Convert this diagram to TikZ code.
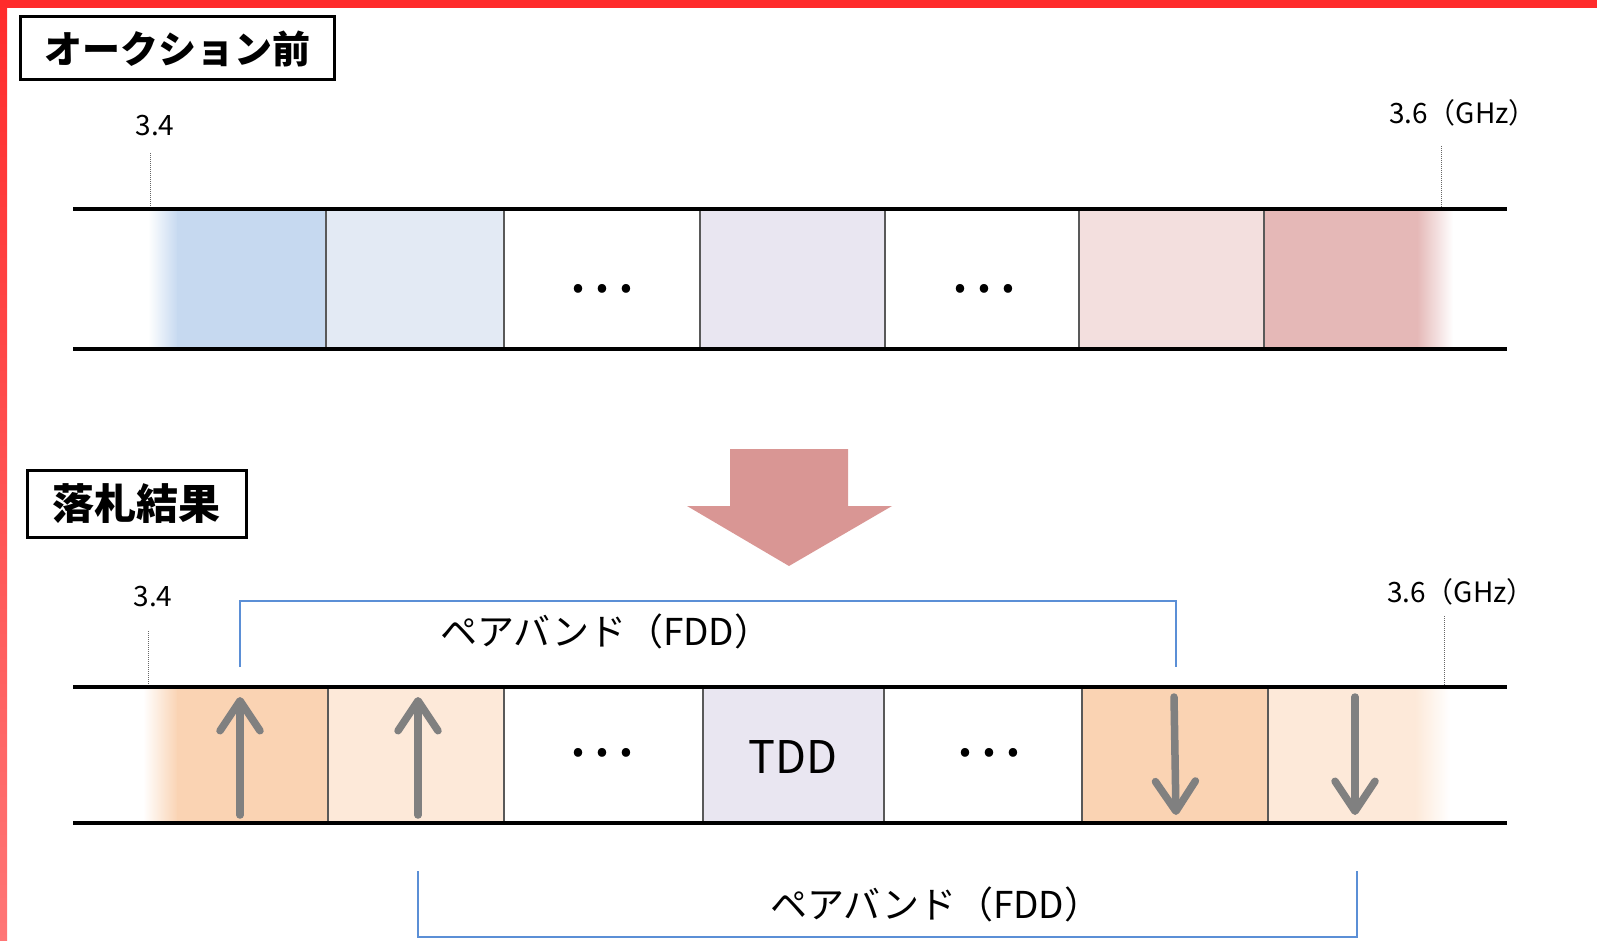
\documentclass[tikz,border=0pt]{standalone}
\usepackage{fontspec}
\newfontfamily\jp{Noto Sans CJK JP}
\usetikzlibrary{arrows.meta}

% frame and band colours
\definecolor{framered}{HTML}{FF2B2B}
\definecolor{framepink}{HTML}{FF7676}
\definecolor{blueA}{HTML}{C6D9F0}
\definecolor{blueB}{HTML}{E3EAF4}
\definecolor{lav}{HTML}{E9E6F1}
\definecolor{pinkB}{HTML}{F3DFDE}
\definecolor{pinkA}{HTML}{E5B8B7}
\definecolor{orangeA}{HTML}{FAD3B3}
\definecolor{orangeB}{HTML}{FDE9D9}
\definecolor{bigarrow}{HTML}{D99694}
\definecolor{fddblue}{HTML}{5B8FD6}
\definecolor{dirgrey}{HTML}{808080}

\tikzset{
	titlebox/.style={draw, line width=3pt, inner sep=0pt,
		font=\jp\bfseries\fontsize{38}{40}\selectfont},
	freq/.style={font=\jp\fontsize{28}{30}\selectfont, inner sep=0pt},
	pairlabel/.style={font=\jp\fontsize{37}{40}\selectfont, inner sep=0pt},
	dots/.style={font=\jp\fontsize{64}{64}\selectfont, inner sep=0pt},
	bandline/.style={line width=4.5pt},
	divider/.style={draw=black!65, line width=2pt},
	freqtick/.style={densely dotted, draw=black!60, line width=1pt},
	pairbracket/.style={draw=fddblue, line width=2.5pt},
	dirarrow/.style={draw=dirgrey, line width=7.5pt, line cap=round,
		-{Straight Barb[length=30pt, width=40pt, round]}},
}

\begin{document}
\begin{tikzpicture}[x=1pt, y=-1pt]
	\useasboundingbox (0,0) rectangle (1597,941);
	% red frame, top and left
	\fill[framered] (0,0) rectangle (1597,8);
	\shade[top color=framered, bottom color=framepink] (0,0) rectangle (7,941);

	% ---- before the auction ----
	\node[titlebox, minimum width=314pt, minimum height=63pt] (before) at (177,48.5) {オークション前};
	\node[freq] (lowA) at (155,126) {3.4};
	\node[freq] (highA) at (1463,113) {3.6（GHz）};

	\shade[left color=white, right color=blueA] (148,211) rectangle (178,347);
	\fill[blueA] (177,211) rectangle (326,347);
	\fill[blueB] (326,211) rectangle (504,347);
	\fill[lav] (700,211) rectangle (885,347);
	\fill[pinkB] (1079,211) rectangle (1264,347);
	\fill[pinkA] (1264,211) rectangle (1418,347);
	\shade[left color=pinkA, right color=white] (1417,211) rectangle (1453,347);
	\foreach \x in {326,504,700,885,1079,1264}
		\draw[divider] (\x,209) -- (\x,349);
	\draw[bandline] (73,209) -- (1507,209);
	\draw[bandline] (73,349) -- (1507,349);
	\draw[freqtick] (150,153) -- (150,207);
	\draw[freqtick] (1441,146) -- (1441,207);
	\node[dots] (dotsA) at (601,289) {…};
	\node[dots] (dotsB) at (983,289) {…};

	% result arrow
	\fill[bigarrow] (730,449) -- (848,449) -- (848,506) -- (892,506)
		-- (789,566) -- (687,506) -- (730,506) -- cycle;

	% ---- auction result ----
	\node[titlebox, minimum width=219pt, minimum height=67pt,
		font=\jp\bfseries\fontsize{42}{44}\selectfont] (result) at (136.5,503.5) {落札結果};
	\node[freq] (lowB) at (153,597) {3.4};
	\node[freq] (highB) at (1461,592) {3.6（GHz）};

	\shade[left color=white, right color=orangeA] (143,689) rectangle (178,821);
	\fill[orangeA] (177,689) rectangle (328,821);
	\fill[orangeB] (328,689) rectangle (504,821);
	\fill[lav] (703,689) rectangle (884,821);
	\fill[orangeA] (1082,689) rectangle (1268,821);
	\fill[orangeB] (1268,689) rectangle (1416,821);
	\shade[left color=orangeB, right color=white] (1415,689) rectangle (1450,821);
	\foreach \x in {328,504,703,884,1082,1268}
		\draw[divider] (\x,687) -- (\x,823);
	\draw[bandline] (73,687) -- (1507,687);
	\draw[bandline] (73,823) -- (1507,823);
	\draw[freqtick] (148,631) -- (148,685);
	\draw[freqtick] (1444,616) -- (1444,685);
	\node[dots] (dotsC) at (601,753) {…};
	\node[dots] (dotsD) at (988,753) {…};
	\node[font=\jp\fontsize{45}{48}\selectfont, inner sep=0pt] (tdd) at (793,757) {TDD};

	% uplink / downlink
	\coordinate (upA) at (240,815);
	\coordinate (upB) at (418,815);
	\coordinate (downA) at (1174,697);
	\coordinate (downB) at (1355,697);
	\draw[dirarrow] (upA) -- ++(0,-118);
	\draw[dirarrow] (upB) -- ++(0,-118);
	\draw[dirarrow] (downA) -- ++(2,118);
	\draw[dirarrow] (downB) -- ++(0,118);

	% paired bands
	\draw[pairbracket] (240,667) -- (240,601) -- (1176,601) -- (1176,667);
	\node[pairlabel] (fddA) at (606,631) {ペアバンド（FDD）};
	\draw[pairbracket] (418,871) -- (418,937) -- (1357,937) -- (1357,871);
	\node[pairlabel] (fddB) at (936,904) {ペアバンド（FDD）};
\end{tikzpicture}
\end{document}
